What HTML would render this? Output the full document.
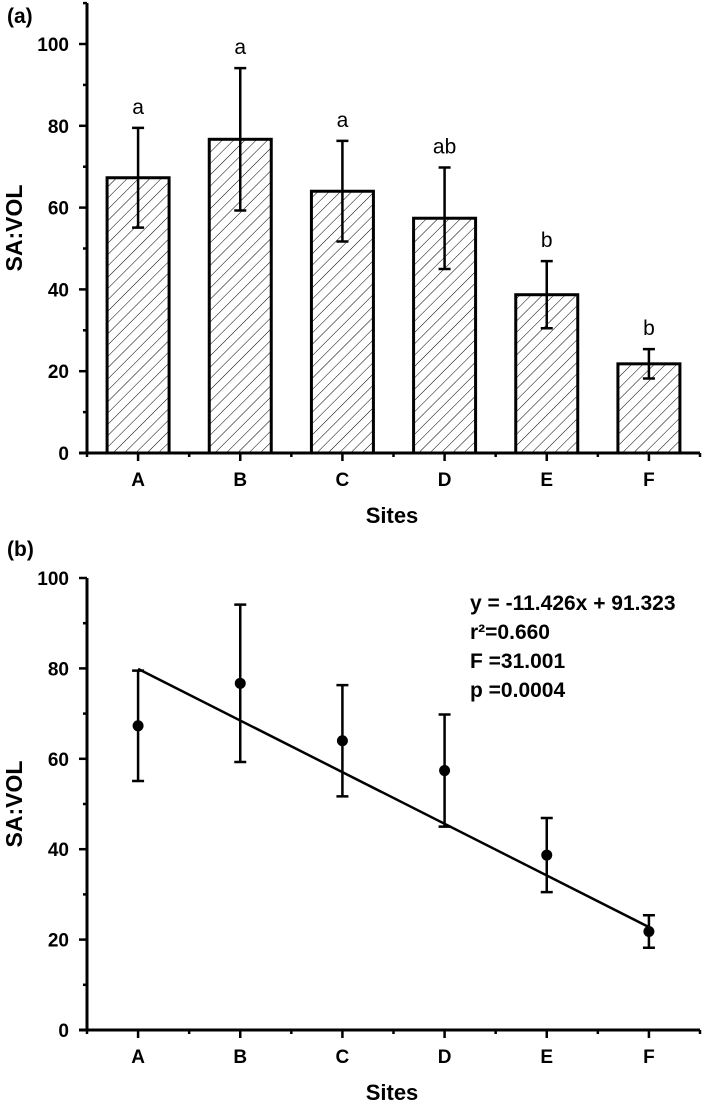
<!DOCTYPE html>
<html><head><meta charset="utf-8"><style>
body{margin:0;background:#fff;}
svg{display:block;font-family:"Liberation Sans",Arial,sans-serif;}
text{font-weight:bold;fill:#000;}
</style></head><body>
<svg id="chart" width="709" height="1106">
<defs><pattern id="hatch" width="8" height="8" patternUnits="userSpaceOnUse" patternTransform="rotate(45)"><line x1="0" y1="0" x2="0" y2="8" stroke="#000" stroke-width="1"/></pattern></defs>
</svg>
<script>
const categories=["A","B","C","D","E","F"];
const means=[67.3,76.7,64.0,57.4,38.7,21.8];
const errors=[12.2,17.4,12.3,12.4,8.2,3.6];
const letters=["a","a","a","ab","b","b"];
const yTicks=[0,20,40,60,80,100];
const slope=-11.426, intercept=91.323;
const svg=document.getElementById('chart');
const NS='http://www.w3.org/2000/svg';
function mk(tag,attrs,parent){const e=document.createElementNS(NS,tag);for(const k in attrs)e.setAttribute(k,attrs[k]);(parent||svg).appendChild(e);return e;}
const x0=87,x1=700,step=(x1-x0)/categories.length;
function xs(i){return x0+step*(i+0.5);}
function panel(p){
  const y=v=>p.y0-(v)*(p.y0-p.y100)/100;
  const g=mk('g',{});
  
  
  let t=mk('text',{x:7,y:p.labelY,'font-size':21},g);t.textContent=p.label;
  
  const ya=mk('line',{x1:x0,y1:p.top,x2:x0,y2:p.y0,stroke:'#000','stroke-width':3},g);
  
  const xa=mk('line',{x1:x0-8,y1:p.y0,x2:x1,y2:p.y0,stroke:'#000','stroke-width':3},g);
  
  for(let v=0;v<=p.maxMinor;v+=10){
    const major=v%20===0;
    mk('line',{x1:x0-(major?8:4),y1:y(v),x2:x0,y2:y(v),stroke:'#000','stroke-width':2.5},g);
  }
  yTicks.forEach(v=>{const tt=mk('text',{x:x0-18,y:y(v)+7,'font-size':19,'text-anchor':'end'},g);tt.textContent=v;
    });
  for(let i=0;i<=categories.length;i++){
    mk('line',{x1:x0+step*i,y1:p.y0,x2:x0+step*i,y2:p.y0+4,stroke:'#000','stroke-width':2.5},g);
  }
  categories.forEach((c,i)=>{
    mk('line',{x1:xs(i),y1:p.y0,x2:xs(i),y2:p.y0+8,stroke:'#000','stroke-width':2.5},g);
    const tt=mk('text',{x:xs(i),y:p.y0+33,'font-size':19,'text-anchor':'middle'},g);tt.textContent=c;
    
  });
  const xt=mk('text',{x:392,y:p.y0+70,'font-size':22,'text-anchor':'middle'},g);xt.textContent='Sites';
  
  const cy=(p.top+p.y0)/2;
  const yt=mk('text',{x:22,y:cy,'font-size':23,'text-anchor':'middle',transform:`rotate(-90 22 ${cy})`},g);yt.textContent='SA:VOL';
  
  return {g,y};
}
const A=panel({name:'panel-a',label:'(a)',labelY:23,top:3,y0:453,y100:44,maxMinor:110});
means.forEach((m,i)=>{
  const r=mk('rect',{x:xs(i)-31,y:A.y(m),width:62,height:453-A.y(m),fill:'url(#hatch)',stroke:'#000','stroke-width':3},A.g);
  
  const e=mk('path',{d:`M${xs(i)},${A.y(m)}V${A.y(m+errors[i])}M${xs(i)-6},${A.y(m+errors[i])}h12M${xs(i)},${A.y(m)}V${A.y(m-errors[i])}M${xs(i)-6},${A.y(m-errors[i])}h12`,stroke:'#000','stroke-width':2.5,fill:'none'},A.g);
  
  const l=mk('text',{x:xs(i),y:A.y(m+errors[i])-14,'font-size':21,'text-anchor':'middle',style:'font-weight:normal'},A.g);l.textContent=letters[i];
  
});
const B=panel({name:'panel-b',label:'(b)',labelY:556,top:578,y0:1030,y100:578,maxMinor:100});
const reg=mk('line',{x1:xs(0),y1:B.y(slope*1+intercept),x2:xs(5),y2:B.y(slope*6+intercept),stroke:'#000','stroke-width':2.5},B.g);

means.forEach((m,i)=>{
  const e=mk('path',{d:`M${xs(i)},${B.y(m-errors[i])}V${B.y(m+errors[i])}M${xs(i)-6},${B.y(m+errors[i])}h12M${xs(i)-6},${B.y(m-errors[i])}h12`,stroke:'#000','stroke-width':2.5,fill:'none'},B.g);
  
  const c=mk('circle',{cx:xs(i),cy:B.y(m),r:5.5,fill:'#000'},B.g);
  
});
const eqLines=['y = -11.426x + 91.323','r\u00b2=0.660','F =31.001','p =0.0004'];
eqLines.forEach((s,k)=>{const t=mk('text',{x:470,y:610+k*29,'font-size':21},B.g);t.textContent=s;
  });
</script>
</body></html>
